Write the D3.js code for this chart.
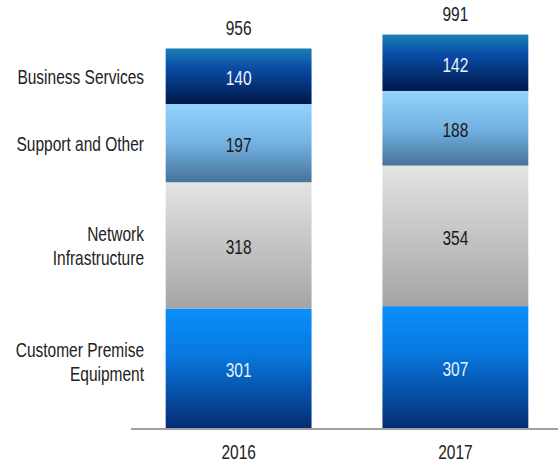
<!DOCTYPE html>
<html>
<head>
<meta charset="utf-8">
<script src="https://cdn.jsdelivr.net/npm/d3@7"></script>
<style>
  body { margin: 0; background: #fff; }
  svg text { font-family: "Liberation Sans", Arial, sans-serif; }
</style>
</head>
<body>
<svg id="chart" width="558" height="465"></svg>
<script>
// data
var years = ["2016", "2017"];
var categories = ["Customer Premise Equipment", "Network Infrastructure", "Support and Other", "Business Services"];
var categoryLines = [["Customer Premise", "Equipment"], ["Network", "Infrastructure"], ["Support and Other"], ["Business Services"]];
var customerPremise = [301, 307];
var networkInfra = [318, 354];
var supportOther = [197, 188];
var businessServices = [140, 142];
var totals = [956, 991];

var W = 558, H = 465;
var svg = d3.select("#chart");
var stretch = 1.32; // text in the picture is drawn tall

var rows = years.map(function (y, i) {
  return {
    year: y,
    "Customer Premise Equipment": customerPremise[i],
    "Network Infrastructure": networkInfra[i],
    "Support and Other": supportOther[i],
    "Business Services": businessServices[i],
    total: totals[i]
  };
});
var series = d3.stack().keys(categories)(rows);

var x = d3.scaleBand().domain(years).range([131, 563]).paddingInner(0.327).paddingOuter(0.16);
var y = d3.scaleLinear().domain([0, 1000]).range([428, 31]);

// gradients, one per category
var grads = {
  "Business Services": [["0%", "#1a80b6"], ["35%", "#0a4ca6"], ["100%", "#00174a"]],
  "Support and Other": [["0%", "#93d3fc"], ["50%", "#74b2e2"], ["100%", "#46729a"]],
  "Network Infrastructure": [["0%", "#e4e4e4"], ["100%", "#a4a4a4"]],
  "Customer Premise Equipment": [["0%", "#0a8ffd"], ["40%", "#0877dd"], ["100%", "#052c74"]]
};
var textColor = {
  "Business Services": "#eef4ff",
  "Support and Other": "#1a1a1a",
  "Network Infrastructure": "#1a1a1a",
  "Customer Premise Equipment": "#e6f0ff"
};
var defs = svg.append("defs");
categories.forEach(function (c, i) {
  var g = defs.append("linearGradient").attr("id", "g" + i)
    .attr("x1", 0).attr("y1", 0).attr("x2", 0).attr("y2", 1);
  grads[c].forEach(function (s) {
    g.append("stop").attr("offset", s[0]).attr("stop-color", s[1]);
  });
});

// bars
var layer = svg.selectAll("g.layer").data(series).enter().append("g")
  .attr("class", "layer")
  .attr("fill", function (d, i) { return "url(#g" + i + ")"; });

layer.selectAll("rect").data(function (d) { return d; }).enter().append("rect")
  .attr("x", function (d) { return x(d.data.year); })
  .attr("y", function (d) { return y(d[1]); })
  .attr("width", x.bandwidth())
  .attr("height", function (d) { return y(d[0]) - y(d[1]); });

function tallText(sel, fx, fy) {
  return sel.attr("transform", function (d, i) {
      return "translate(" + fx(d, i) + "," + fy(d, i) + ") scale(1," + stretch + ")";
    })
    .attr("dy", "0.36em")
    .style("font-size", "15.5px");
}

// values in the bars
series.forEach(function (s) {
  var t = svg.append("g").selectAll("text").data(s).enter().append("text")
    .attr("text-anchor", "middle")
    .attr("fill", textColor[s.key])
    .text(function (d) { return d[1] - d[0]; });
  tallText(t,
    function (d) { return x(d.data.year) + x.bandwidth() / 2; },
    function (d) { return (y(d[0]) + y(d[1])) / 2 + 1.5; });
});

// totals
tallText(svg.append("g").selectAll("text").data(rows).enter().append("text")
    .attr("text-anchor", "middle").attr("fill", "#222")
    .text(function (d) { return d.total; }),
  function (d) { return x(d.year) + x.bandwidth() / 2; },
  function (d) { return y(d.total) - 21; });

// baseline
svg.append("line")
  .attr("x1", 131).attr("x2", W)
  .attr("y1", y(0) + 1).attr("y2", y(0) + 1)
  .attr("stroke", "#a0a0a0").attr("stroke-width", 2);

// x axis labels
var xAxis = d3.axisBottom(x).tickSize(0).tickPadding(0);
var ax = svg.append("g").attr("transform", "translate(0," + (y(0) + 24) + ")").call(xAxis);
ax.select(".domain").remove();
ax.selectAll("text")
  .attr("y", 0).attr("dy", "0.36em")
  .attr("transform", "scale(1," + stretch + ")")
  .attr("fill", "#222")
  .style("font-size", "15.5px")
  .style("font-family", "'Liberation Sans', Arial, sans-serif");

// category labels, next to the first bar
var first = series.map(function (s) { return s[0]; });
var lab = svg.append("g").selectAll("g").data(categories).enter().append("g")
  .attr("transform", function (c, i) {
    var seg = first[i];
    var mid = (y(seg[0]) + y(seg[1])) / 2;
    if (i === 0) mid -= 7;
    return "translate(144," + mid + ")";
  });
lab.each(function (c, i) {
  var lines = categoryLines[i];
  var g = d3.select(this);
  lines.forEach(function (ln, k) {
    var off = (k - (lines.length - 1) / 2) * 24;
    g.append("text")
      .attr("text-anchor", "end")
      .attr("fill", "#222")
      .attr("dy", "0.36em")
      .attr("transform", "translate(0," + off + ") scale(1," + stretch + ")")
      .style("font-size", "15.5px")
      .text(ln);
  });
});
</script>
</body>
</html>
